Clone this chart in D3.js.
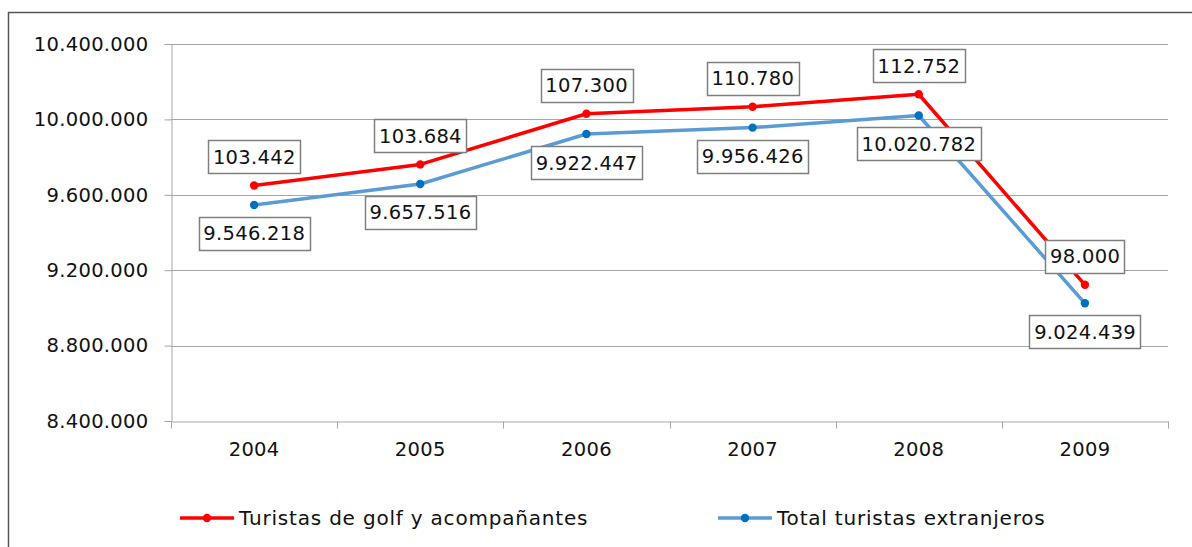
<!DOCTYPE html>
<html>
<head>
<meta charset="utf-8">
<script src="https://cdn.jsdelivr.net/npm/d3@7"></script>
<style>
  html, body { margin: 0; padding: 0; background: #fff; }
  svg text { font-family: "DejaVu Sans", Verdana, sans-serif; font-size: 19.5px; letter-spacing: 0.3px; fill: #111; }
  svg text.legend-text { font-size: 20px; letter-spacing: 0.8px; }
</style>
</head>
<body>
<svg id="chart" width="1192" height="547"></svg>
<script>
// Years on the category axis
const years = ["2004", "2005", "2006", "2007", "2008", "2009"];
// Golf tourists and companions (stacked on top of the total)
const golfTourists = [103442, 103684, 107300, 110780, 112752, 98000];
// Total foreign tourists
const totalTourists = [9546218, 9657516, 9922447, 9956426, 10020782, 9024439];
// Value-axis ticks
const yTicks = [8400000, 8800000, 9200000, 9600000, 10000000, 10400000];
// Legend entries
const legendLabels = ["Turistas de golf y acompañantes", "Total turistas extranjeros"];

const fmt = v => d3.format(",")(v).replace(/,/g, ".");

const svg = d3.select("#chart");
const margin = { left: 171, right: 1168, top: 44, bottom: 421 };

// Outer chart frame
svg.append("rect")
  .attr("x", 8.5).attr("y", 12.5)
  .attr("width", 1200).attr("height", 560)
  .attr("fill", "none").attr("stroke", "#555").attr("stroke-width", 1.5);

const x = d3.scaleBand().domain(years).range([margin.left, margin.right]);
const y = d3.scaleLinear().domain([8400000, 10400000]).range([margin.bottom, margin.top]);
const cx = d => x(d) + x.bandwidth() / 2;

// Horizontal gridlines
svg.append("g").selectAll("line").data(yTicks.slice(1)).join("line")
  .attr("x1", margin.left).attr("x2", margin.right)
  .attr("y1", d => Math.round(y(d)) + 0.5).attr("y2", d => Math.round(y(d)) + 0.5)
  .attr("stroke", "#a6a6a6").attr("stroke-width", 1);

// Value axis
const yAxis = svg.append("g")
  .attr("transform", `translate(${margin.left + 0.5},0)`)
  .call(d3.axisLeft(y).tickValues(yTicks).tickFormat(fmt).tickSize(7).tickPadding(16));
yAxis.select(".domain").attr("stroke", "#a6a6a6");
yAxis.selectAll(".tick line").attr("stroke", "#a6a6a6");
yAxis.selectAll("text").attr("font-family", null).attr("font-size", null).attr("fill", "#111");

// Category axis
const xAxis = svg.append("g")
  .attr("transform", `translate(0,${margin.bottom + 0.5})`)
  .call(d3.axisBottom(x).tickSize(0).tickPadding(21));
xAxis.select(".domain").attr("stroke", "#a6a6a6");
xAxis.selectAll("text").attr("font-family", null).attr("font-size", null).attr("fill", "#111");
// Category separators
xAxis.append("g").selectAll("line").data(years.concat(["end"])).join("line")
  .attr("x1", (d, i) => Math.round(margin.left + i * x.bandwidth()) + 0.5)
  .attr("x2", (d, i) => Math.round(margin.left + i * x.bandwidth()) + 0.5)
  .attr("y1", 0).attr("y2", 7)
  .attr("stroke", "#a6a6a6");

// Series: blue is the total; red is stacked on top of it
const blueData = years.map((yr, i) => ({ yr, v: totalTourists[i], label: totalTourists[i] }));
const redData = years.map((yr, i) => ({ yr, v: totalTourists[i] + golfTourists[i], label: golfTourists[i] }));

const line = d3.line().x(d => cx(d.yr)).y(d => y(d.v));

const series = [
  { data: blueData, stroke: "#5b9bd5", marker: "#0070c0", below: true },
  { data: redData, stroke: "#ff0000", marker: "#ff0000", below: false }
];

series.forEach(s => {
  svg.append("path").datum(s.data)
    .attr("d", line).attr("fill", "none")
    .attr("stroke", s.stroke).attr("stroke-width", 3.5)
    .attr("stroke-linejoin", "round");
  svg.append("g").selectAll("circle").data(s.data).join("circle")
    .attr("cx", d => cx(d.yr)).attr("cy", d => y(d.v)).attr("r", 4.2)
    .attr("fill", s.marker);
});

// Boxed value labels
const labelLayer = svg.append("g");
series.forEach(s => {
  s.data.forEach(d => {
    const g = labelLayer.append("g");
    const px = cx(d.yr), py = y(d.v);
    const rect = g.append("rect");
    const t = g.append("text").text(fmt(d.label)).attr("text-anchor", "middle");
    const w = t.node().getComputedTextLength() + 9;
    const h = 33;
    const top = s.below ? py + 12 : py - 12 - h;
    rect.attr("x", Math.round(px - w / 2) + 0.5).attr("y", Math.round(top) + 0.5)
      .attr("width", Math.round(w)).attr("height", h)
      .attr("fill", "#fff").attr("stroke", "#7f7f7f").attr("stroke-width", 1.5);
    t.attr("x", px + 0.2).attr("y", top + h / 2 + 7);
  });
});

// Legend
const legend = svg.append("g");
const legendItems = [
  { label: legendLabels[0], stroke: "#ff0000", marker: "#ff0000", x0: 180 },
  { label: legendLabels[1], stroke: "#5b9bd5", marker: "#0070c0", x0: 718 }
];
legendItems.forEach(it => {
  legend.append("line").attr("x1", it.x0).attr("x2", it.x0 + 54)
    .attr("y1", 518).attr("y2", 518)
    .attr("stroke", it.stroke).attr("stroke-width", 3.5);
  legend.append("circle").attr("cx", it.x0 + 27).attr("cy", 518).attr("r", 4.2).attr("fill", it.marker);
  legend.append("text").attr("class", "legend-text").attr("x", it.x0 + 59).attr("y", 525).text(it.label);
});
</script>
</body>
</html>
